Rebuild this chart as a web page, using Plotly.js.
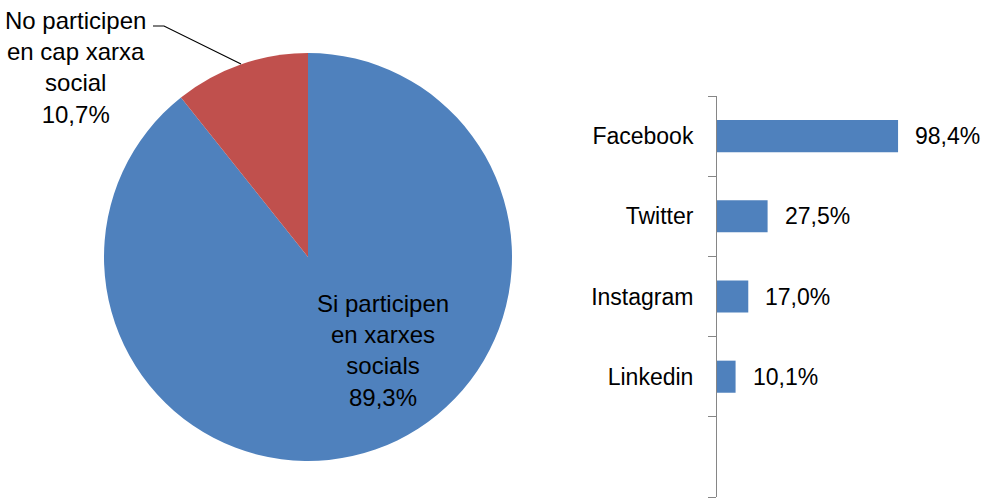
<!DOCTYPE html>
<html>
<head>
<meta charset="utf-8">
<script src="https://cdn.plot.ly/plotly-3.0.1.min.js"></script>
<style>html,body{margin:0;padding:0;background:#fff;}#chart{width:984px;height:499px;}</style>
</head>
<body>
<div id="chart"></div>
<script>
// Pie data
const pieLabels = ['Si participen<br>en xarxes<br>socials', 'No participen<br>en cap xarxa<br>social'];
const pieValues = [89.3, 10.7];
const pieColors = ['#4F81BD', '#C0504D'];

// Bar data
const barCategories = ['Facebook', 'Twitter', 'Instagram', 'Linkedin'];
const barValues = [98.4, 27.5, 17.0, 10.1];

const FONT = 'Liberation Sans, Arial, sans-serif';
const FS = 23;
const PFS = 24;
const fmt = v => v.toFixed(1).replace('.', ',') + '%';
const W = 984, H = 499;
const px = x => x / W, py = y => 1 - y / H;

const idx = barCategories.map((_, i) => i);

const traces = [
  {
    type: 'pie',
    labels: pieLabels,
    values: pieValues,
    sort: false,
    direction: 'clockwise',
    rotation: 0,
    marker: {colors: pieColors, line: {width: 0}},
    textinfo: 'none',
    hoverinfo: 'skip',
    showlegend: false,
    domain: {x: [px(104), px(512)], y: [py(461), py(53)]}
  },
  {
    type: 'bar',
    orientation: 'h',
    x: barValues,
    y: idx,
    width: 0.4,
    marker: {color: '#4F81BD', line: {width: 0}},
    hoverinfo: 'skip',
    showlegend: false,
    xaxis: 'x',
    yaxis: 'y'
  }
];

const annotations = [
  {xref: 'paper', yref: 'paper', x: px(75), y: py(67), xanchor: 'center', yanchor: 'middle',
   text: pieLabels[1] + '<br>' + fmt(pieValues[1]), showarrow: false, align: 'center',
   font: {family: FONT, size: PFS, color: '#000'}},
  {xref: 'paper', yref: 'paper', x: px(383), y: py(350), xanchor: 'center', yanchor: 'middle',
   text: pieLabels[0] + '<br>' + fmt(pieValues[0]), showarrow: false, align: 'center',
   font: {family: FONT, size: PFS, color: '#000'}}
];
barValues.forEach((v, i) => {
  annotations.push({xref: 'x', yref: 'y', x: v, y: i, xanchor: 'left', yanchor: 'middle',
    xshift: 15, text: fmt(v), showarrow: false,
    font: {family: FONT, size: FS, color: '#000'}});
});

const layout = {
  width: W, height: H,
  margin: {l: 0, r: 0, t: 0, b: 0},
  paper_bgcolor: '#fff', plot_bgcolor: 'rgba(0,0,0,0)',
  font: {family: FONT, size: FS, color: '#000'},
  xaxis: {domain: [px(717), px(901)], range: [0, 100], visible: false, fixedrange: true},
  yaxis: {
    domain: [py(497), py(96)], range: [4.5, -0.5], type: 'linear',
    tickmode: 'array', tickvals: idx, ticktext: barCategories,
    ticks: '', showgrid: false, zeroline: false,
    showline: true, linecolor: '#868686', linewidth: 1,
    ticklabelstandoff: 18,
    tickfont: {family: FONT, size: FS, color: '#000'},
    minor: {tickmode: 'linear', tick0: -0.5, dtick: 1, ticks: 'outside', ticklen: 8, tickwidth: 1, tickcolor: '#868686', showgrid: false},
    fixedrange: true
  },
  annotations: annotations,
  shapes: [
    {type: 'path', xref: 'paper', yref: 'paper',
     path: `M ${px(153)},${py(26)} L ${px(164)},${py(26)} L ${px(241)},${py(64)}`,
     line: {color: '#000', width: 1.2}}
  ]
};

Plotly.newPlot('chart', traces, layout, {displayModeBar: false, staticPlot: true});
</script>
</body>
</html>
